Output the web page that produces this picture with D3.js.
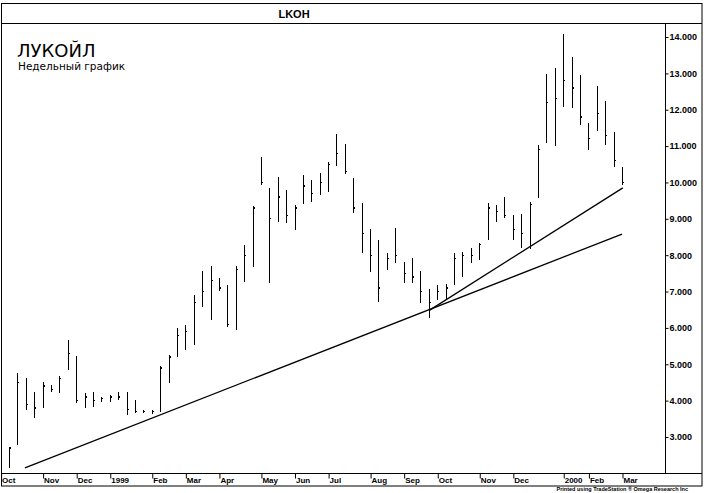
<!DOCTYPE html>
<html><head><meta charset="utf-8">
<script src="https://cdn.jsdelivr.net/npm/d3@7"></script>
<style>body{margin:0;background:#fff}svg{display:block}</style>
</head><body>
<script>
// Weekly bars, LKOH, Oct 1998 – Mar 2000 (week index 1..74)
const highs = [2720,4760,4620,4240,4510,4430,4680,5670,5230,4210,
  4240,4100,4155,4240,4240,4020,3740,3740,4950,5255,
  6000,6080,6900,7565,7700,7370,7180,7700,8280,9350,
  10700,9850,10150,9790,9380,10200,10070,10260,10560,11330,
  11060,10120,9440,8720,8420,8060,8750,7810,7920,7565,
  7070,7180,7210,8060,8090,8200,8335,9440,9380,9600,
  9105,9130,9465,11030,12980,13150,14080,13450,12950,11635,
  12650,12240,11390,10400];
const lows = [2150,2780,3740,3520,3800,4240,4210,4840,3935,3800,
  3825,3960,3960,4020,3600,3660,3660,3630,3690,4485,
  5200,5390,5530,6575,6220,7015,6025,5940,7260,7675,
  9930,7235,8910,8880,8690,9410,9460,9655,9740,10450,
  10230,9160,8060,7540,6710,7590,7785,7235,7235,6685,
  6270,6770,6770,7180,7400,7785,7870,8420,8910,9020,
  8420,8200,8170,9570,11100,11000,12075,12050,11580,10890,
  11415,11030,10425,9930];
const opens = [2200,2800,4500,3900,3850,4350,4300,4900,5200,4000,
  4100,4000,4050,4100,4150,3800,3700,3700,3750,4900,
  5250,5800,5900,6800,7000,7300,7100,6100,7600,8000,
  10100,9800,9000,9600,9100,9450,9900,9700,10000,10500,
  10800,10100,9300,8600,8200,7700,7900,7800,7500,7400,
  7000,6800,7000,7200,7900,8000,8000,8450,9300,9200,
  9100,8700,8600,9600,11100,12200,12300,13000,12600,11600,
  11500,12000,11300,10400];
const closes = [2700,4500,3900,3800,4400,4300,4600,5300,4000,4100,
  4000,4050,4100,4100,3750,3700,3700,3700,4900,5200,
  5800,5900,6700,7000,7300,7100,6100,7600,8000,9300,
  10000,9000,9600,9100,9300,9900,9700,10000,10500,10800,
  10300,9300,8600,8000,7100,7900,8000,7500,7400,7000,
  6700,7000,7100,7900,8000,8000,8300,9300,9200,9100,
  8700,8600,9400,10900,12200,12300,12800,12600,11800,11200,
  11900,11300,10600,10000];
// month labels and the week index where each month starts
const monthLabels = ["Oct","Nov","Dec","1999","Feb","Mar","Apr","May","Jun","Jul","Aug","Sep","Oct","Nov","Dec","2000","Feb","Mar"];
const monthWeeks = [0,5,9,13,18,22,26,31,35,39,44,48,52,57,61,67,70,74];
const priceTicks = [3000,4000,5000,6000,7000,8000,9000,10000,11000,12000,13000,14000];
// trend lines: [week index, price]
const trendLong = [[2.9,2150],[74,8580]];
const trendShort = [[51.1,6490],[74.1,9850]];

const W = 704, H = 493;
const svg = d3.select("body").append("svg").attr("width", W).attr("height", H);
svg.append("rect").attr("width", W).attr("height", H).attr("fill", "#fff");

const x = d3.scaleLinear().domain([1,74]).range([9,622]);
const y = d3.scaleLinear().domain([3000,14000]).range([437,37]);
const axisX = 665, axisY = 473;

const frame = svg.append("g").attr("stroke","#000").attr("stroke-width",1).attr("fill","none");
frame.append("rect").attr("x",1.5).attr("y",3.5).attr("width",700.5).attr("height",482.5);
frame.append("line").attr("x1",1.5).attr("x2",702).attr("y1",23.5).attr("y2",23.5);

svg.append("text").attr("x",294).attr("y",18).attr("text-anchor","middle")
  .attr("font-family","Liberation Sans, Arial, sans-serif").attr("font-size",11)
  .attr("font-weight","bold").text("LKOH");

svg.append("text").attr("x",17).attr("y",57)
  .attr("font-family","DejaVu Sans, sans-serif").attr("font-size",18)
  .text("ЛУКОЙЛ");
svg.append("text").attr("x",18).attr("y",70)
  .attr("font-family","DejaVu Sans, sans-serif").attr("font-size",10.5)
  .text("Недельный график");

// right price axis
const fmt = v => d3.format(",")(v).replace(",", ".");
const yAxis = d3.axisRight(y).tickValues(priceTicks).tickSize(3).tickPadding(1).tickFormat(fmt);
const ga = svg.append("g").attr("transform",`translate(${axisX+0.5},0)`).call(yAxis);
ga.select(".domain").remove();
ga.selectAll("text").attr("font-family","Liberation Sans, Arial, sans-serif").attr("font-size",9).attr("font-weight","bold").attr("fill","#000");
ga.selectAll("line").attr("stroke","#000");
svg.append("line").attr("x1",axisX+0.5).attr("x2",axisX+0.5).attr("y1",23.5).attr("y2",axisY).attr("stroke","#000");
svg.append("line").attr("x1",1.5).attr("x2",702).attr("y1",axisY+0.5).attr("y2",axisY+0.5).attr("stroke","#000");

// bottom month axis
const xAxis = d3.axisBottom(x).tickValues(monthWeeks).tickSize(5).tickPadding(0)
  .tickFormat((d,i) => monthLabels[i]);
const gx = svg.append("g").attr("transform",`translate(0,${axisY+0.5})`).call(xAxis);
gx.select(".domain").remove();
gx.selectAll(".tick line").attr("stroke","#000").attr("transform","translate(0.5,0)");
gx.selectAll("text").attr("text-anchor","start").attr("dx",1).attr("dy","0.55em")
  .attr("font-family","Liberation Sans, Arial, sans-serif").attr("font-size",8).attr("font-weight","bold").attr("fill","#000");

svg.append("text").attr("x",688).attr("y",491).attr("text-anchor","end")
  .attr("font-family","Liberation Sans, Arial, sans-serif").attr("font-size",5.5).attr("font-weight","bold")
  .text("Printed using TradeStation ® Omega Research Inc");

// OHLC bars
const bars = d3.range(highs.length).map(i => ({i:i+1, h:highs[i], l:lows[i], o:opens[i], c:closes[i]}));
const gb = svg.append("g").attr("stroke","#000").attr("stroke-width",1.2).attr("shape-rendering","crispEdges");
gb.selectAll(".hl").data(bars).join("line")
  .attr("x1",d=>Math.round(x(d.i))+0.5).attr("x2",d=>Math.round(x(d.i))+0.5)
  .attr("y1",d=>y(d.h)).attr("y2",d=>y(d.l));
gb.selectAll(".op").data(bars).join("line")
  .attr("x1",d=>Math.round(x(d.i))-0.5).attr("x2",d=>Math.round(x(d.i))+0.5)
  .attr("y1",d=>y(d.o)).attr("y2",d=>y(d.o));
gb.selectAll(".cl").data(bars).join("line")
  .attr("x1",d=>Math.round(x(d.i))+0.5).attr("x2",d=>Math.round(x(d.i))+1.5)
  .attr("y1",d=>y(d.c)).attr("y2",d=>y(d.c));

// trend lines
const line = d3.line().x(d=>x(d[0])).y(d=>y(d[1]));
[trendLong, trendShort].forEach(t => svg.append("path").attr("d", line(t))
  .attr("fill","none").attr("stroke","#000").attr("stroke-width",1.3));
</script>
</body></html>
